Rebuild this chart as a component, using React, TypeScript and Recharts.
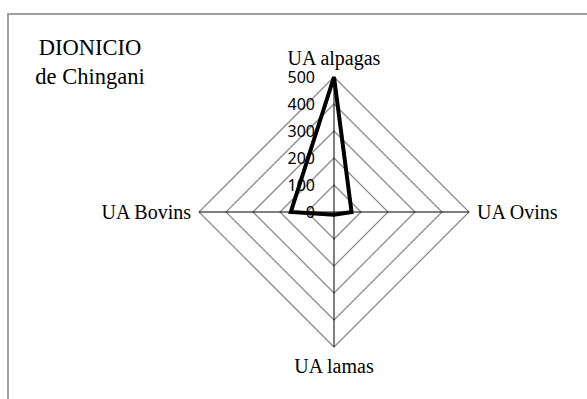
import React from 'react';
import { RadarChart, Radar, PolarGrid, PolarAngleAxis, PolarRadiusAxis } from 'recharts';

const categories = ['UA alpagas', 'UA Ovins', 'UA lamas', 'UA Bovins'];
const values = [500, 65, 10, 160];
const radiusTicks = [0, 100, 200, 300, 400, 500];
const titleLines = ['DIONICIO', 'de Chingani'];

const data = categories.map((c, i) => ({ name: c, value: values[i] }));

const CX = 334;
const CY = 212;
const SERIF = 'Liberation Serif, serif';

const AngleTick = (props: any) => {
  const { x, y, payload, textAnchor } = props;
  let dy = 7;
  if (textAnchor === 'middle') {
    dy = y < CY ? -4 : 18;
  }
  return (
    <text x={x} y={y} dy={dy} textAnchor={textAnchor} fontFamily={SERIF} fontSize={20} fill="#000">
      {payload.value}
    </text>
  );
};

const RadiusTick = (props: any) => {
  const { x, y, payload } = props;
  return (
    <text x={x - 19} y={y} dy={5.5} textAnchor="end" fontFamily="Noto Sans, sans-serif" fontSize={16} fill="#000">
      {payload.value}
    </text>
  );
};

export default function App() {
  return (
    <div style={{ position: 'absolute', left: 0, top: 0, width: 587, height: 399, overflow: 'hidden', background: '#fff' }}>
      <div style={{ position: 'absolute', left: 7, top: 13, width: 640, height: 440, border: '2px solid #a0a0a0', boxSizing: 'border-box' }} />
      <svg width={200} height={100} style={{ position: 'absolute', left: 0, top: 0 }}>
        {titleLines.map((t, i) => (
          <text key={t} x={90} y={55 + i * 29} textAnchor="middle" fontFamily={SERIF} fontSize={22.5} fill="#000">
            {t}
          </text>
        ))}
      </svg>
      <div style={{ position: 'absolute', left: 0, top: 0 }}>
        <RadarChart width={587} height={399} cx={CX} cy={CY} outerRadius={135} data={data} margin={{ top: 0, right: 0, bottom: 0, left: 0 }}>
          <PolarGrid gridType="polygon" radialLines={false} stroke="#8c8c8c" strokeWidth={1.3} />
          <PolarGrid gridType="polygon" polarRadius={[]} stroke="#000" strokeWidth={1} />
          <PolarAngleAxis dataKey="name" tick={<AngleTick />} tickLine={false} axisLine={false} />
          <PolarRadiusAxis angle={90} domain={[0, 500]} ticks={radiusTicks as any} tickCount={6} tick={<RadiusTick />} axisLine={false} tickLine={false} />
          <Radar dataKey="value" stroke="#000" strokeWidth={4} fill="none" fillOpacity={0} dot={false} isAnimationActive={false} />
        </RadarChart>
      </div>
    </div>
  );
}
